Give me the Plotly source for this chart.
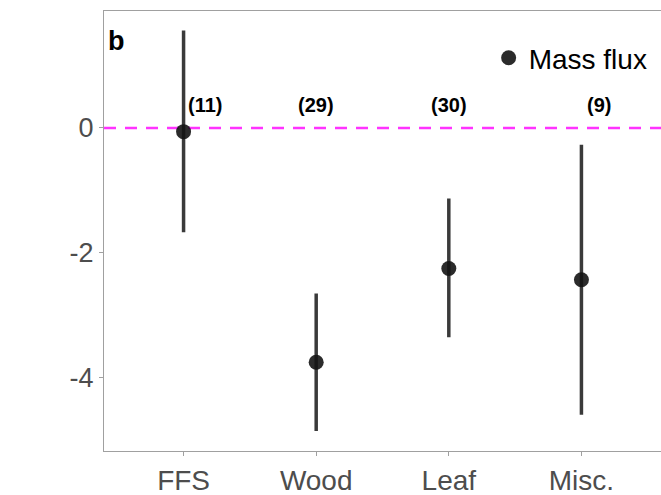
import plotly.graph_objects as go

# Effect sizes with 95% confidence limits per litter type
categories = ["FFS", "Wood", "Leaf", "Misc."]
effect = [-0.06, -3.75, -2.25, -2.43]
ci_upper = [1.56, -2.65, -1.13, -0.27]
ci_lower = [-1.67, -4.85, -3.35, -4.59]
sample_sizes = ["(11)", "(29)", "(30)", "(9)"]
label_shift = [21, 0, 0, 18]
label_y = 0.36

err_plus = [u - m for u, m in zip(ci_upper, effect)]
err_minus = [m - l for m, l in zip(effect, ci_lower)]

font_family = "Liberation Sans, Arial, Helvetica, sans-serif"
axis_grey = "#4d4d4d"

fig = go.Figure()
fig.add_trace(go.Scatter(
    x=categories, y=effect, mode="markers", name="Mass flux",
    marker=dict(size=15, color="rgba(20,20,20,0.9)", line=dict(width=0)),
    error_y=dict(type="data", symmetric=False, array=err_plus, arrayminus=err_minus,
                 color="#3a3a3a", thickness=3.5, width=0),
))

# Reference line at zero
fig.add_hline(y=0, line=dict(color="#ff33ff", width=2.5, dash="12px,9px"), layer="below")

for cat, txt, dx in zip(categories, sample_sizes, label_shift):
    fig.add_annotation(x=cat, y=label_y, text=f"<b>{txt}</b>", showarrow=False,
                       xshift=dx, font=dict(size=20, color="black", family=font_family))

fig.add_annotation(xref="paper", yref="paper", x=0.004, y=0.97, xanchor="left", yanchor="top",
                   text="<b>b</b>", showarrow=False,
                   font=dict(size=27, color="black", family=font_family))

fig.update_layout(
    width=661, height=495,
    margin=dict(l=104, r=0, t=11, b=44),
    plot_bgcolor="white", paper_bgcolor="white",
    font=dict(family=font_family),
    showlegend=True,
    legend=dict(x=0.985, y=0.893, xanchor="right", yanchor="middle",
                bgcolor="rgba(0,0,0,0)", font=dict(size=28, color="black"),
                itemwidth=30),
)
fig.update_xaxes(
    type="category", range=[-0.6, 3.6], showgrid=False, zeroline=False,
    showline=True, linecolor="#a0a0a0", linewidth=1.2, mirror=True,
    ticks="outside", ticklen=4, tickcolor="#a0a0a0",
    tickfont=dict(size=28, color=axis_grey),
)
fig.update_yaxes(
    range=[-5.17, 1.87], tickvals=[0, -2, -4], ticktext=["0", "-2", "-4"],
    showgrid=False, zeroline=False,
    showline=True, linecolor="#a0a0a0", linewidth=1.2, mirror=True,
    ticks="outside", ticklen=4, tickcolor="#a0a0a0",
    tickfont=dict(size=27, color=axis_grey),
)

fig.write_html("out.html")
